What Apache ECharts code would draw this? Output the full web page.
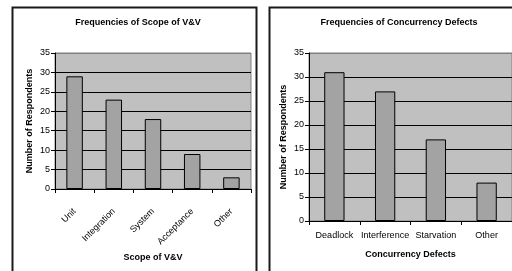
<!DOCTYPE html>
<html>
<head>
<meta charset="utf-8">
<script src="https://cdn.jsdelivr.net/npm/echarts@6/dist/echarts.min.js"></script>
<style>
html, body { margin: 0; padding: 0; background: #fff; overflow: hidden; }
#chart { width: 512px; height: 271px; }
</style>
</head>
<body>
<div id="chart"></div>
<script>
// left chart: scope of V&V
const scopeCats = ['Unit', 'Integration', 'System', 'Acceptance', 'Other'];
const scopeVals = [29, 23, 18, 9, 3];
// right chart: concurrency defects
const defectCats = ['Deadlock', 'Interference', 'Starvation', 'Other'];
const defectVals = [31, 27, 17, 8];
const yTicks = [0, 5, 10, 15, 20, 25, 30, 35];

const font = 'Liberation Sans, Arial, sans-serif';
const gridLineColors = ['#000', '#000', '#000', '#000', '#000', '#000', '#000', '#808080'];

function yAxis(idx) {
    return {
        gridIndex: idx,
        type: 'value',
        min: yTicks[0],
        max: yTicks[yTicks.length - 1],
        interval: yTicks[1] - yTicks[0],
        name: 'Number of Respondents',
        nameLocation: 'middle',
        nameGap: 21,
        nameTextStyle: { fontFamily: font, fontSize: 9, fontWeight: 'bold', color: '#000' },
        axisLine: { show: true, lineStyle: { color: '#000', width: 1 } },
        axisTick: { show: true, length: 4, lineStyle: { color: '#000' } },
        axisLabel: { fontFamily: font, fontSize: 9, color: '#000', margin: 5 },
        splitLine: { show: true, lineStyle: { color: gridLineColors, width: 1 } }
    };
}

function xAxis(idx, cats, name, gap, rotate, margin) {
    return {
        gridIndex: idx,
        type: 'category',
        data: cats,
        name: name,
        nameLocation: 'middle',
        nameGap: gap,
        nameTextStyle: { fontFamily: font, fontSize: 9, fontWeight: 'bold', color: '#000' },
        axisLine: { show: true, lineStyle: { color: '#000', width: 1 } },
        axisTick: { show: true, length: 4, alignWithLabel: false, lineStyle: { color: '#000' } },
        axisLabel: { fontFamily: font, fontSize: 9, color: '#000', rotate: rotate, margin: margin, interval: 0 }
    };
}

var chart = echarts.init(document.getElementById('chart'));
chart.setOption({
    animation: false,
    backgroundColor: '#fff',
    title: [
        {
            text: 'Frequencies of Scope of V&V',
            left: 133, top: 13, textAlign: 'center',
            textStyle: { fontFamily: font, fontSize: 9, fontWeight: 'bold', color: '#000' }
        },
        {
            text: 'Frequencies of Concurrency Defects',
            left: 394, top: 13, textAlign: 'center',
            textStyle: { fontFamily: font, fontSize: 9, fontWeight: 'bold', color: '#000' }
        }
    ],
    graphic: [
        { type: 'rect', shape: { x: 12.5, y: 7.5, width: 244, height: 280 }, style: { fill: 'none', stroke: '#1a1a1a', lineWidth: 2 }, z: -1 },
        { type: 'rect', shape: { x: 269.5, y: 7.5, width: 250, height: 280 }, style: { fill: 'none', stroke: '#1a1a1a', lineWidth: 2 }, z: -1 }
    ],
    grid: [
        { left: 55, top: 53, width: 196, height: 136, show: true, backgroundColor: '#c0c0c0', borderColor: '#808080', borderWidth: 1 },
        { left: 309, top: 53, width: 204, height: 168, show: true, backgroundColor: '#c0c0c0', borderColor: '#808080', borderWidth: 1 }
    ],
    xAxis: [
        xAxis(0, scopeCats, 'Scope of V&V', 59, 45, 21),
        xAxis(1, defectCats, 'Concurrency Defects', 29, 0, 10)
    ],
    yAxis: [yAxis(0), yAxis(1)],
    series: [
        {
            type: 'bar', xAxisIndex: 0, yAxisIndex: 0, data: scopeVals,
            barWidth: '42%',
            itemStyle: { color: '#a3a3a3', borderColor: '#000', borderWidth: 1 }
        },
        {
            type: 'bar', xAxisIndex: 1, yAxisIndex: 1, data: defectVals,
            barWidth: '40%',
            itemStyle: { color: '#a3a3a3', borderColor: '#000', borderWidth: 1 }
        }
    ]
});
</script>
</body>
</html>
